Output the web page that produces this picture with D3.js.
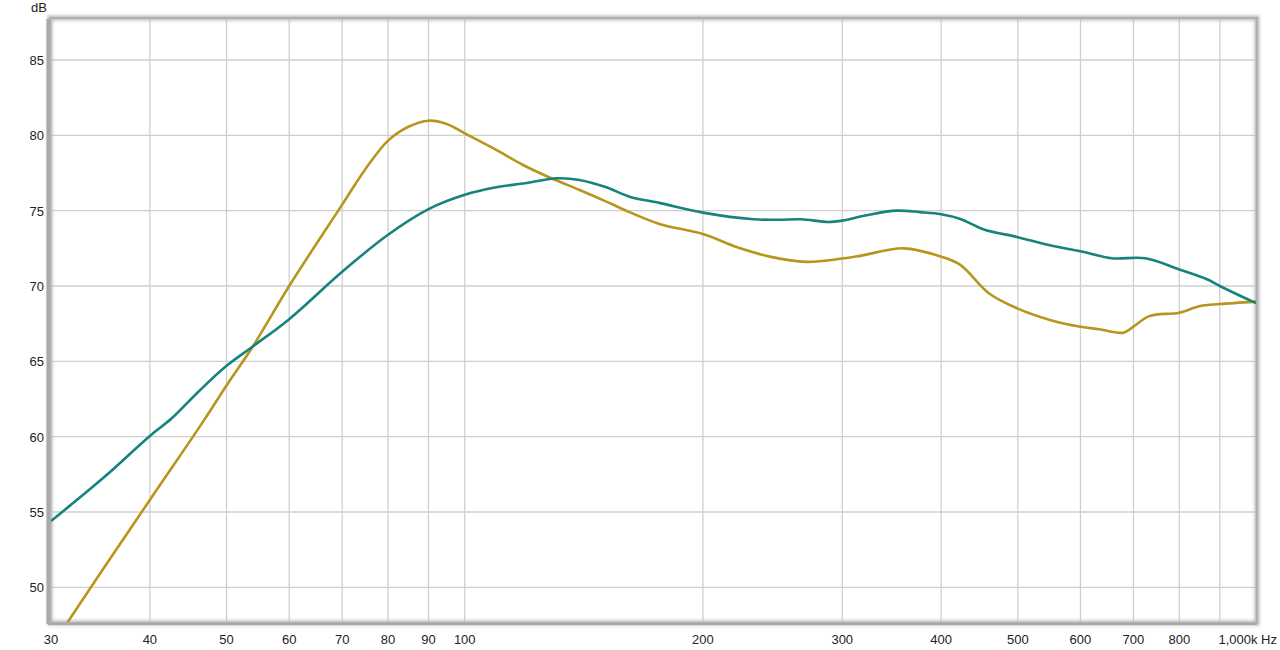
<!DOCTYPE html>
<html>
<head>
<meta charset="utf-8">
<script src="https://cdn.jsdelivr.net/npm/d3@7"></script>
<style>
  html, body { margin: 0; padding: 0; background: #fff; }
  svg { display: block; font-family: "Liberation Sans", Arial, sans-serif; }
</style>
</head>
<body>
<svg id="chart" width="1280" height="650"></svg>
<script>
// ---- data ----
const tealFreq = [30, 35, 40, 42.6, 46, 50, 54, 60, 70, 80, 90, 100, 109.6, 118.5, 130.8, 139.7, 151, 161.5, 176.6, 200, 231.7, 250, 266, 288, 300, 322, 351.6, 376, 400, 423, 452, 500, 549, 600, 657, 725, 800, 867, 900, 1000];
const tealDb   = [54.4, 57.3, 60.05, 61.2, 62.95, 64.7, 66.0, 67.8, 70.95, 73.4, 75.1, 76.05, 76.55, 76.8, 77.15, 77.04, 76.55, 75.93, 75.5, 74.87, 74.43, 74.4, 74.43, 74.25, 74.34, 74.7, 75.0, 74.9, 74.76, 74.45, 73.77, 73.24, 72.7, 72.3, 71.84, 71.84, 71.1, 70.45, 70.0, 68.86];

const goldFreq = [30, 31.5, 35, 40, 46.7, 50, 54, 60, 70, 75, 80, 84.9, 90, 94.9, 100, 109.6, 118.5, 128, 139.7, 151, 161.5, 176.6, 200, 221, 243, 270, 300, 316, 358.6, 400, 423, 460, 500, 549, 600, 633, 680, 700, 733, 800, 850, 900, 1000];
const goldDb   = [46.1, 47.7, 51.3, 55.8, 61.0, 63.4, 66.0, 70.0, 75.4, 77.8, 79.65, 80.57, 80.97, 80.75, 80.13, 79.03, 78.03, 77.2, 76.37, 75.6, 74.9, 74.1, 73.45, 72.57, 71.95, 71.6, 71.82, 72.0, 72.5, 71.95, 71.4, 69.5, 68.5, 67.75, 67.3, 67.13, 66.9, 67.3, 68.0, 68.23, 68.67, 68.8, 68.96];

const xGridFreqs = [30, 40, 50, 60, 70, 80, 90, 100, 200, 300, 400, 500, 600, 700, 800, 900, 1000];
const xTickLabels = ["30", "40", "50", "60", "70", "80", "90", "100", "200", "300", "400", "500", "600", "700", "800"];
const xTickLabelFreqs = [30, 40, 50, 60, 70, 80, 90, 100, 200, 300, 400, 500, 600, 700, 800];
const xEndLabel = "1,000k Hz";
const yTicks = [50, 55, 60, 65, 70, 75, 80, 85];
const yUnit = "dB";

// ---- layout ----
const L = 51, R = 1256, T = 19, B = 622;
const svg = d3.select("#chart");
const x = d3.scaleLog().domain([30, 1000]).range([L, R]);
const y = d3.scaleLinear().domain([47.7, 87.72]).range([B, T]);

const defs = svg.append("defs");
const f = defs.append("filter").attr("id", "shadow").attr("x", "-5%").attr("y", "-5%").attr("width", "110%").attr("height", "110%");
f.append("feGaussianBlur").attr("stdDeviation", 1.6);
defs.append("clipPath").attr("id", "clip").append("rect")
  .attr("x", L).attr("y", T).attr("width", R - L).attr("height", B - T);

// grid
const g = svg.append("g");
g.selectAll("line.vx").data(xGridFreqs).join("line")
  .attr("x1", d => x(d)).attr("x2", d => x(d))
  .attr("y1", T).attr("y2", B)
  .attr("stroke", "#cfcfcf").attr("stroke-width", 1.3);
g.selectAll("line.hy").data(yTicks).join("line")
  .attr("x1", L).attr("x2", R)
  .attr("y1", d => y(d)).attr("y2", d => y(d))
  .attr("stroke", "#cfcfcf").attr("stroke-width", 1.3);

// frame with soft shadow
svg.append("rect").attr("x", L - 1).attr("y", T - 1).attr("width", R - L + 2).attr("height", B - T + 2)
  .attr("fill", "none").attr("stroke", "#bdbdbd").attr("stroke-width", 5).attr("filter", "url(#shadow)");
svg.append("rect").attr("x", L - 1).attr("y", T - 1).attr("width", R - L + 2).attr("height", B - T + 2)
  .attr("fill", "none").attr("stroke", "#b0b0b0").attr("stroke-width", 2);
svg.append("line").attr("x1", L - 3).attr("x2", L - 3).attr("y1", T).attr("y2", B + 2)
  .attr("stroke", "#a8a8a8").attr("stroke-width", 3);
svg.append("line").attr("x1", L - 3).attr("x2", R + 1).attr("y1", B + 2).attr("y2", B + 2)
  .attr("stroke", "#a8a8a8").attr("stroke-width", 2);

// curves
const line = d3.line().x(d => x(d[0])).y(d => y(d[1])).curve(d3.curveCatmullRom.alpha(0.5));
const cg = svg.append("g").attr("clip-path", "url(#clip)");
cg.append("path").datum(d3.zip(goldFreq, goldDb)).attr("d", line)
  .attr("fill", "none").attr("stroke", "#b8951c").attr("stroke-width", 2.6);
cg.append("path").datum(d3.zip(tealFreq, tealDb)).attr("d", line)
  .attr("fill", "none").attr("stroke", "#16837e").attr("stroke-width", 2.6);

// y labels
svg.append("g").selectAll("text").data(yTicks).join("text")
  .attr("x", 44).attr("y", d => y(d) + 5)
  .attr("text-anchor", "end").attr("font-size", 13).attr("fill", "#222")
  .text(d => d);
svg.append("text").attr("x", 47).attr("y", 12).attr("text-anchor", "end")
  .attr("font-size", 13).attr("fill", "#222").text(yUnit);

// x labels
svg.append("g").selectAll("text").data(xTickLabelFreqs).join("text")
  .attr("x", d => x(d)).attr("y", 644)
  .attr("text-anchor", "middle").attr("font-size", 13).attr("fill", "#222")
  .text((d, i) => xTickLabels[i]);
svg.append("text").attr("x", 1277).attr("y", 644).attr("text-anchor", "end")
  .attr("font-size", 13).attr("fill", "#222").text(xEndLabel);
</script>
</body>
</html>
